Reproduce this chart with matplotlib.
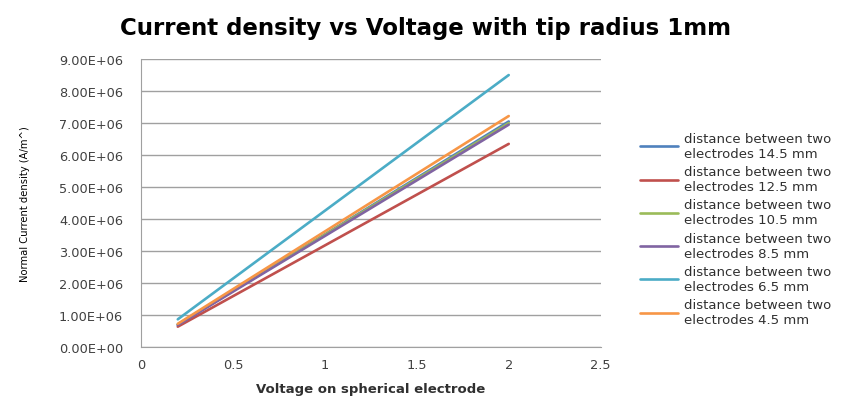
import matplotlib
matplotlib.use("Agg")
import matplotlib.pyplot as plt

# voltage samples (start and end of each series)
voltage = [0.2, 2.0]

labels = ['distance between two\nelectrodes 14.5 mm',
          'distance between two\nelectrodes 12.5 mm',
          'distance between two\nelectrodes 10.5 mm',
          'distance between two\nelectrodes 8.5 mm',
          'distance between two\nelectrodes 6.5 mm',
          'distance between two\nelectrodes 4.5 mm']

d14_5 = [0.70e6, 7.05e6]
d12_5 = [0.64e6, 6.35e6]
d10_5 = [0.71e6, 7.00e6]
d8_5 = [0.69e6, 6.95e6]
d6_5 = [0.87e6, 8.50e6]
d4_5 = [0.73e6, 7.22e6]

colors = ['#4F81BD', '#C0504D', '#9BBB59', '#8064A2', '#4BACC6', '#F79646']

fig = plt.figure(figsize=(8.52, 4.14), dpi=100)
ax = fig.add_axes([0.1655, 0.159, 0.5395, 0.696])

for ys, c, lab in zip([d14_5, d12_5, d10_5, d8_5, d6_5, d4_5], colors, labels):
    ax.plot(voltage, ys, color=c, linewidth=1.9, label=lab, solid_capstyle='round')

ax.set_xlim(0, 2.5)
ax.set_ylim(0, 9e6)
ax.set_xticks([0, 0.5, 1, 1.5, 2, 2.5])
ax.set_xticklabels(['0', '0.5', '1', '1.5', '2', '2.5'])
ax.set_yticks([i * 1e6 for i in range(10)])
ax.set_yticklabels(['%d.00E+06' % i if i else '0.00E+00' for i in range(10)])
ax.tick_params(labelsize=9.3, colors='#404040', length=0)
ax.tick_params(axis='y', pad=13)
ax.tick_params(axis='x', pad=8)
ax.grid(axis='y', color='#a0a0a0', linewidth=1)
ax.set_axisbelow(True)
for s in ['top', 'right']:
    ax.spines[s].set_visible(False)
ax.spines['left'].set_color('#a0a0a0')
ax.spines['bottom'].set_color('#a0a0a0')

ax.set_xlabel('Voltage on spherical electrode', fontsize=9.5, fontweight='bold',
              color='#303030', labelpad=8)
ax.set_ylabel('Normal Current density (A/m^)', fontsize=7.2,
              family=['Liberation Sans Narrow', 'DejaVu Sans'])
ax.yaxis.set_label_coords(-0.241, 0.5)
fig.text(0.5, 0.915, 'Current density vs Voltage with tip radius 1mm',
         ha='center', fontsize=16.5, fontweight='bold', family='DejaVu Sans')

leg = ax.legend(loc='center left', bbox_to_anchor=(1.06, 0.41), frameon=False,
                fontsize=9.5, handlelength=2.9, labelspacing=0.4, handletextpad=0.4)
for t in leg.get_texts():
    t.set_color('#303030')

fig.savefig('out.png', dpi=100)
